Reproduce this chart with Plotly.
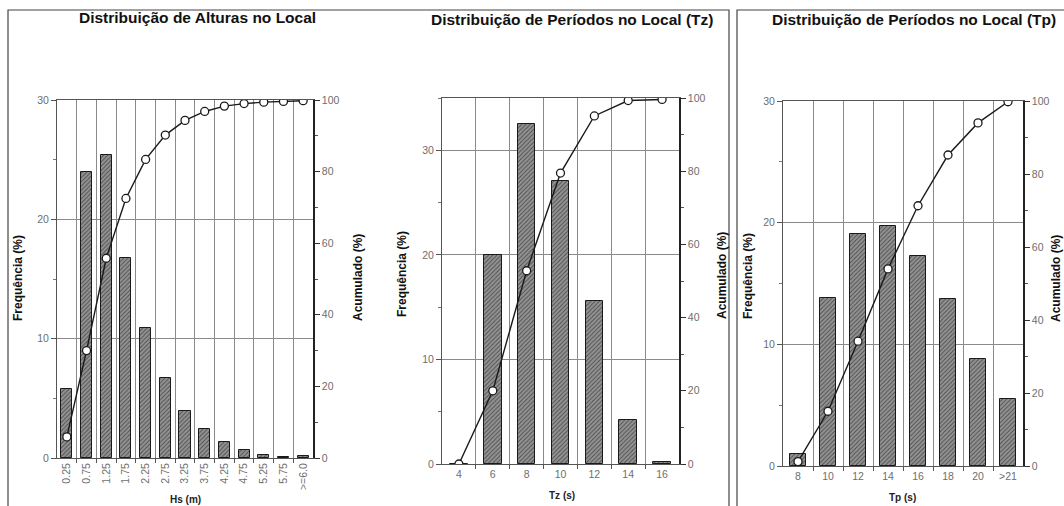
import plotly.graph_objects as go

W, H = 1064, 506

# ---------------- data ----------------
hs_labels = ["0.25", "0.75", "1.25", "1.75", "2.25", "2.75", "3.25", "3.75",
             "4.25", "4.75", "5.25", "5.75", ">=6.0"]
hs_freq = [5.8, 24.0, 25.4, 16.8, 10.9, 6.7, 3.9, 2.4, 1.3, 0.65, 0.25, 0.1, 0.15]
hs_cum = [5.9, 30.0, 55.8, 72.5, 83.4, 90.2, 94.3, 96.8, 98.3, 99.0, 99.4, 99.6, 99.8]

tz_labels = ["4", "6", "8", "10", "12", "14", "16"]
tz_freq = [0.0, 20.0, 32.5, 27.1, 15.6, 4.2, 0.2]
tz_cum = [0.0, 20.0, 52.8, 79.5, 95.1, 99.3, 99.6]

tp_labels = ["8", "10", "12", "14", "16", "18", "20", ">21"]
tp_freq = [1.0, 13.8, 19.1, 19.7, 17.3, 13.7, 8.8, 5.5]
tp_cum = [1.2, 15.0, 34.2, 54.0, 71.3, 85.2, 94.0, 99.8]

titles = ["Distribuição de Alturas no Local",
          "Distribuição de Períodos no Local (Tz)",
          "Distribuição de Períodos no Local (Tp)"]
xtitles = ["Hs (m)", "Tz (s)", "Tp (s)"]
left_title = "Frequência (%)"
right_title = "Acumulado (%)"

# ---------------- layout helpers ----------------
FONT = "Liberation Sans, Arial, sans-serif"
GRID = "#8a8a8a"
TICKC = "#6e6e6e"


def fx(px):
    return px / W


def fy(py):
    return 1 - py / H


panels = [
    dict(labels=hs_labels, freq=hs_freq, cum=hs_cum, x=(57, 313), y=(100, 458),
         ymax=30, angle=-90, bw=0.56),
    dict(labels=tz_labels, freq=tz_freq, cum=tz_cum, x=(442, 679), y=(98, 464),
         ymax=35, angle=0, bw=0.52),
    dict(labels=tp_labels, freq=tp_freq, cum=tp_cum, x=(783, 1023), y=(101, 466),
         ymax=30, angle=0, bw=0.52),
]

fig = go.Figure()
layout = {}
for i, p in enumerate(panels):
    n = len(p["labels"])
    xs = list(range(n))
    xa = "x" if i == 0 else f"x{i + 1}"
    ya_l = "y" if i == 0 else f"y{2 * i + 1}"
    ya_r = f"y{2 * i + 2}"
    fig.add_trace(go.Bar(
        x=xs, y=p["freq"], xaxis=xa, yaxis=ya_l, width=p["bw"],
        marker=dict(color="#8a8a8a", line=dict(color="#1a1a1a", width=1),
                    pattern=dict(shape="/", fgcolor="#4c4c4c", bgcolor="#939393",
                                 size=3, solidity=0.3)),
        showlegend=False, hoverinfo="skip"))
    fig.add_trace(go.Scatter(
        x=xs, y=p["cum"], xaxis=xa, yaxis=ya_r, mode="lines+markers",
        line=dict(color="#1a1a1a", width=1.4),
        marker=dict(symbol="circle", size=8, color="white",
                    line=dict(color="#1a1a1a", width=1.3)),
        showlegend=False, hoverinfo="skip"))

    xkey = "xaxis" if i == 0 else f"xaxis{i + 1}"
    ylkey = "yaxis" if i == 0 else f"yaxis{2 * i + 1}"
    yrkey = f"yaxis{2 * i + 2}"
    layout[xkey] = dict(
        domain=[fx(p["x"][0]), fx(p["x"][1])], anchor=ya_l, automargin=False,
        range=[-0.5, n - 0.5], tickmode="array", tickvals=xs, ticktext=p["labels"],
        tickangle=p["angle"], ticks="", showgrid=False, zeroline=False,
        showline=True, linecolor="#555555", linewidth=1, mirror=True,
        tickfont=dict(family=FONT, size=10.5, color=TICKC),
        minor=dict(tickmode="array", tickvals=[k + 0.5 for k in range(n - 1)],
                   showgrid=True, gridcolor=GRID, gridwidth=1,
                   ticks="outside", ticklen=4, tickcolor="#555555"),
        fixedrange=True)
    layout[ylkey] = dict(
        domain=[fy(p["y"][1]), fy(p["y"][0])], anchor=xa, automargin=False,
        range=[0, p["ymax"]], dtick=10, tick0=0, showgrid=True, gridcolor=GRID,
        gridwidth=1, zeroline=False, showline=True, linecolor="#555555",
        ticks="outside", ticklen=5, tickcolor="#555555",
        tickfont=dict(family=FONT, size=10.5, color=TICKC),
        minor=dict(dtick=5, tick0=0, ticks="outside", ticklen=3, tickcolor="#777777"),
        fixedrange=True)
    layout[yrkey] = dict(
        overlaying=ya_l, anchor=xa, side="right", range=[0, 100], dtick=20, tick0=0,
        automargin=False,
        showgrid=False, zeroline=False, showline=True, linecolor="#222222",
        linewidth=1.5, ticks="outside", ticklen=5, tickcolor="#333333",
        tickfont=dict(family=FONT, size=10.5, color=TICKC),
        minor=dict(dtick=10, tick0=0, ticks="outside", ticklen=3, tickcolor="#555555"),
        fixedrange=True)

ann = []
title_pos = [(197, 17), (572, 20), (914, 20)]
for (cx, cy), t in zip(title_pos, titles):
    ann.append(dict(x=fx(cx), y=fy(cy), text=f"<b>{t}</b>", showarrow=False,
                    xref="paper", yref="paper", xanchor="center", yanchor="middle",
                    font=dict(family=FONT, size=15.5, color="#111111")))
xt_pos = [(185, 499), (562, 495), (902, 497)]
for (cx, cy), t in zip(xt_pos, xtitles):
    ann.append(dict(x=fx(cx), y=fy(cy), text=f"<b>{t}</b>", showarrow=False,
                    xref="paper", yref="paper", xanchor="center", yanchor="middle",
                    font=dict(family=FONT, size=10, color="#222222")))
lt_pos = [(18, 278), (402, 274), (748, 276)]
for (cx, cy) in lt_pos:
    ann.append(dict(x=fx(cx), y=fy(cy), text=f"<b>{left_title}</b>", showarrow=False,
                    textangle=-90, xref="paper", yref="paper", xanchor="center",
                    yanchor="middle", font=dict(family=FONT, size=12, color="#111111")))
rt_pos = [(358, 278), (722, 276), (1056, 279)]
for (cx, cy) in rt_pos:
    ann.append(dict(x=fx(cx), y=fy(cy), text=f"<b>{right_title}</b>", showarrow=False,
                    textangle=-90, xref="paper", yref="paper", xanchor="center",
                    yanchor="middle", font=dict(family=FONT, size=12, color="#111111")))

shapes = [
    dict(type="rect", xref="paper", yref="paper", x0=fx(8), x1=fx(729),
         y0=fy(530), y1=fy(10), line=dict(color="#444444", width=1.2), layer="below"),
    dict(type="rect", xref="paper", yref="paper", x0=fx(737), x1=fx(1080),
         y0=fy(530), y1=fy(10), line=dict(color="#444444", width=1.2), layer="below"),
]

fig.update_layout(
    template="none",
    width=W, height=H, margin=dict(l=0, r=0, t=0, b=0, pad=0, autoexpand=False),
    paper_bgcolor="white", plot_bgcolor="white", bargap=0,
    annotations=ann, shapes=shapes, **layout)

fig.write_html("out.html", config={"displayModeBar": False},
               post_script="document.body.style.margin='0';document.body.style.overflow='hidden';")
